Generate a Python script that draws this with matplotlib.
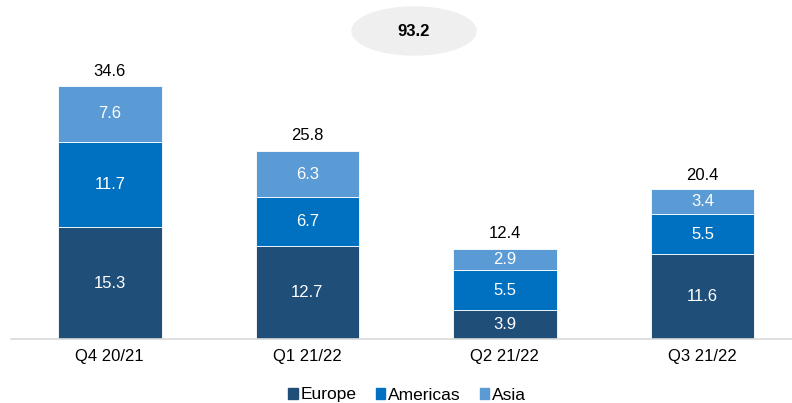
import matplotlib.pyplot as plt
from matplotlib.patches import Ellipse, Patch

plt.rcParams['font.family'] = ['Liberation Sans', 'DejaVu Sans']

quarters = ['Q4 20/21', 'Q1 21/22', 'Q2 21/22', 'Q3 21/22']
europe = [15.3, 12.7, 3.9, 11.6]
americas = [11.7, 6.7, 5.5, 5.5]
asia = [7.6, 6.3, 2.9, 3.4]
totals = [34.6, 25.8, 12.4, 20.4]
grand_total = 93.2

colors = {'Europe': '#1f4e79', 'Americas': '#0070c0', 'Asia': '#5b9bd5'}

fig = plt.figure(figsize=(7.92, 4.03), dpi=100)
ax = fig.add_axes([11 / 792, 1 - 339 / 403, 1 - 11 / 792, 339 / 403 - 0.05])

x = range(len(quarters))
w = 0.524
bottom = [0.0] * len(quarters)
for name, vals in [('Europe', europe), ('Americas', americas), ('Asia', asia)]:
    bars = ax.bar(x, vals, w, bottom=bottom, color=colors[name],
                  edgecolor='white', linewidth=0.6, label=name)
    for xi, v, b in zip(x, vals, bottom):
        ax.text(xi, b + v / 2, f'{v:.1f}', ha='center', va='center',
                color='white', fontsize=12)
    bottom = [b + v for b, v in zip(bottom, vals)]

for xi, t in zip(x, totals):
    ax.text(xi, t + 1.0, f'{t:.1f}', ha='center', va='bottom', fontsize=12)

ax.set_xlim(-0.5, (792 - 110) / 197.5)
ax.set_ylim(0, 339 / 7.31 * (339 / 403 - 0.05) / (339 / 403))
ax.set_xticks(list(x))
ax.set_xticklabels(quarters, fontsize=12)
ax.tick_params(axis='x', length=0, pad=7)
ax.set_yticks([])
for s in ['top', 'right', 'left']:
    ax.spines[s].set_visible(False)
ax.spines['bottom'].set_color('#d9d9d9')
ax.spines['bottom'].set_linewidth(1.2)

# total bubble at the top
fig.patches.append(Ellipse((414 / 792, 1 - 31 / 403), 124 / 792, 48 / 403,
                           transform=fig.transFigure, color='#efefef', zorder=0))
fig.text(414 / 792, 1 - 31 / 403, f'{grand_total:.1f}', ha='center', va='center',
         fontsize=12, fontweight='bold')

handles = [Patch(color=c, label=n) for n, c in colors.items()]
fig.legend(handles=handles, loc='center', bbox_to_anchor=(0.514, 1 - 395 / 403),
           ncol=3, frameon=False, fontsize=12.5, handlelength=0.55, handleheight=0.55,
           handletextpad=0.15, columnspacing=1.1)

fig.savefig('out.png', dpi=100)
